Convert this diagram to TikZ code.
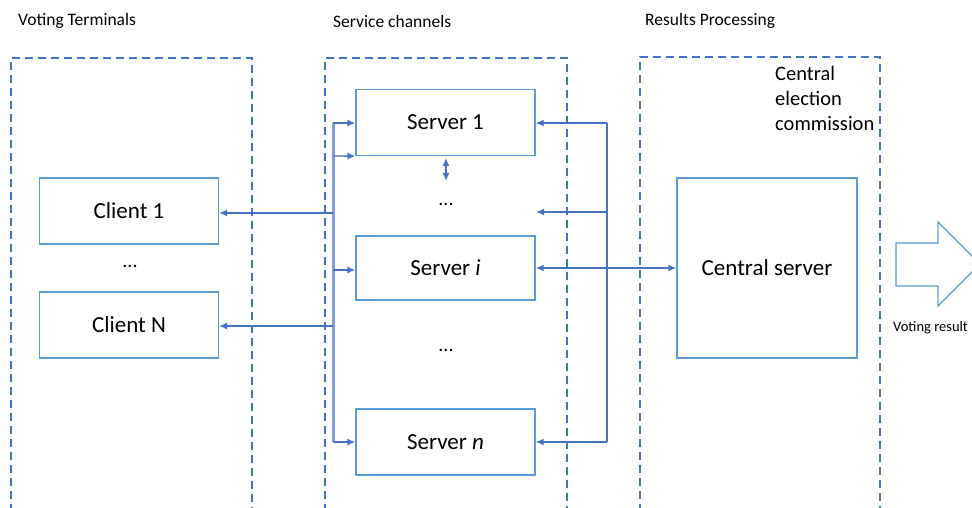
\documentclass[tikz,border=0pt]{standalone}
\usepackage{fontspec}
\setmainfont{Carlito}
\usetikzlibrary{arrows.meta}
\definecolor{boxblue}{HTML}{5B9BD5}
\definecolor{linkblue}{HTML}{4472C4}
\definecolor{busblue}{HTML}{7F9FDC}
\begin{document}
\begin{tikzpicture}[x=1pt,y=-1pt,
  box/.style={draw=boxblue,line width=1.2pt,fill=white,inner sep=0pt,minimum width=179pt,minimum height=66pt,font=\fontsize{23}{27}\selectfont},
  container/.style={draw=linkblue,line width=1.3pt,dash pattern=on 8pt off 5pt},
  link/.style={draw=linkblue,line width=1.4pt},
  arr/.style={link,-{Latex[length=8pt,width=7pt]}},
  darr/.style={link,{Latex[length=8pt,width=7pt]}-{Latex[length=8pt,width=7pt]}},
  bus/.style={draw=busblue,line width=3pt},
  header/.style={font=\fontsize{17.5}{20}\selectfont,anchor=west,inner sep=0pt},
  dots/.style={font=\fontsize{20}{24}\selectfont,inner sep=0pt}]
\useasboundingbox (0,0) rectangle (972,508);
\fill[white] (0,0) rectangle (972,508);

% headers
\node[header] (h1) at (18,21) {Voting Terminals};
\node[header] (h2) at (333,21) {Service channels};
\node[header] (h3) at (645,21) {Results Processing};

% containers (open at bottom)
\draw[container] (11,512) -- (11,58) -- (252,58) -- (252,512);
\draw[container] (325,512) -- (325,58) -- (567,58) -- (567,512);
\draw[container] (640,512) -- (640,57) -- (880,57) -- (880,512);

% client boxes
\node[box] (c1) at (129,211) {Client 1};
\node[dots] (cd) at (130,266) {...};
\node[box] (cN) at (129,325) {Client N};

% server boxes
\node[box] (s1) at (445.5,122.5) {Server 1};
\node[dots] (sd1) at (446,204) {...};
\node[box,minimum height=64pt] (si) at (445.5,268) {Server \textit{i}};
\node[dots] (sd2) at (446,350) {...};
\node[box] (sn) at (445.5,442) {Server \textit{n}};

% central
\node[box,minimum width=180pt,minimum height=180pt] (cs) at (767,268) {Central server};
\node[align=left,anchor=north west,inner sep=0pt,font=\fontsize{20.5}{25}\selectfont] (cec) at (775,66) {Central\\election\\commission};

% left bus
\coordinate (lt) at (333,123);
\coordinate (lb) at (333,442);
\draw[bus] (lt) -- (lb);
\draw[arr] (lt) -- (s1.west |- lt);
\draw[arr] (333,156) -- (s1.south west);
\draw[arr] (333,270) -- (si.west |- 0,270);
\draw[arr] (lb) -- (sn.west |- lb);
\draw[arr] (333,213) -- (c1.east |- 0,213);
\draw[arr] (333,326) -- (cN.east |- 0,326);

% small double arrow
\coordinate (da1) at (446,158);
\coordinate (da2) at (446,181);
\draw[darr,line width=1.2pt] (da1) -- (da2);

% right bus
\coordinate (rt) at (607,123);
\coordinate (rb) at (607,442);
\coordinate (rdots) at (536,212);
\draw[link,line width=1.6pt] (rt) -- (rb);
\draw[arr] (rt) -- (s1.east |- rt);
\draw[arr] (607,212) -- (rdots);
\draw[arr] (rb) -- (sn.east |- rb);
\draw[darr,line width=1.8pt] (si.east) -- (cs.west);

% big output arrow
\draw[draw=boxblue,line width=1.3pt,fill=white] (896,243) -- (938,243) -- (938,222) -- (980,264) -- (938,306) -- (938,286) -- (896,286) -- cycle;
\node[anchor=west,inner sep=0pt,font=\fontsize{14.5}{17}\selectfont] (vr) at (893,328) {Voting result};
\end{tikzpicture}
\end{document}
